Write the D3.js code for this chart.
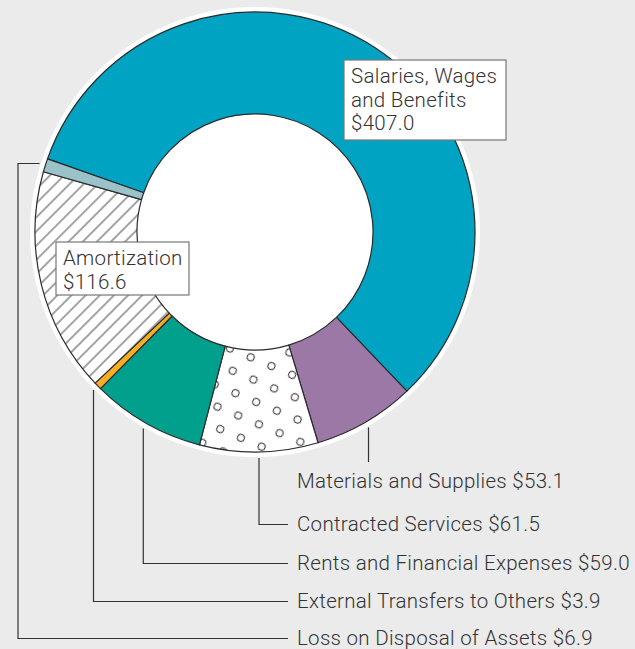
<!DOCTYPE html>
<html>
<head>
<meta charset="utf-8">
<script src="https://cdn.jsdelivr.net/npm/d3@7"></script>
<style>
  html, body { margin: 0; padding: 0; background: #eaebea; }
  svg { display: block; }
  text { font-family: Roboto, "Liberation Sans", sans-serif; font-weight: 300; fill: #333; letter-spacing: 0.3px; }
</style>
</head>
<body>
<div id="container"></div>
<script>
// expenses, millions of dollars, clockwise from the top-left
const categories = [
    'Salaries, Wages and Benefits',
    'Materials and Supplies',
    'Contracted Services',
    'Rents and Financial Expenses',
    'External Transfers to Others',
    'Amortization',
    'Loss on Disposal of Assets'
];
const values = [407.0, 53.1, 61.5, 59.0, 3.9, 116.6, 6.9];
const fills = ['#00a3c1', '#9b78a6', 'url(#dots)', '#00a08c', '#f7ae22', 'url(#hatch)', '#99c3c9'];

// boxed labels and listed labels
const boxed = [0, 5];
const boxLines = [['Salaries, Wages', 'and Benefits'], ['Amortization']];
const listed = [1, 2, 3, 4, 6];
const listBaselines = [488, 531, 570, 608, 645];

const width = 635, height = 649;
const cx = 255, cy = 232;
const rOuter = 220, rInner = 118, rLeader = 226;
const textX = 297, lineEndX = 288, lossX = 18;
const fontSize = 20.5;

const fmt = v => '$' + d3.format('.1f')(v);

const svg = d3.select('#container')
    .append('svg')
    .attr('width', width)
    .attr('height', height);

const defs = svg.append('defs');

const hatch = defs.append('pattern')
    .attr('id', 'hatch')
    .attr('patternUnits', 'userSpaceOnUse')
    .attr('width', 10)
    .attr('height', 10)
    .attr('patternTransform', 'rotate(45)');
hatch.append('rect').attr('width', 10).attr('height', 10).attr('fill', '#fff');
hatch.append('line')
    .attr('x1', 5).attr('x2', 5).attr('y1', 0).attr('y2', 10)
    .attr('stroke', '#333').attr('stroke-width', 0.9);

const dw = 22.5, dh = 39;
const dots = defs.append('pattern')
    .attr('id', 'dots')
    .attr('patternUnits', 'userSpaceOnUse')
    .attr('width', dw)
    .attr('height', dh)
    .attr('patternTransform', 'rotate(23)');
dots.append('rect').attr('width', dw).attr('height', dh).attr('fill', '#fff');
[[0, 0], [dw, 0], [0, dh], [dw, dh], [dw / 2, dh / 2]].forEach(([x, y]) => {
    dots.append('circle')
        .attr('cx', x).attr('cy', y).attr('r', 3.5)
        .attr('fill', '#fff').attr('stroke', '#333').attr('stroke-width', 1);
});

const g = svg.append('g').attr('transform', `translate(${cx}, ${cy})`);

const start = -70.6 * Math.PI / 180;
const pie = d3.pie().sort(null).value(d => d)
    .startAngle(start).endAngle(start + 2 * Math.PI);
const arcs = pie(values);

const arc = d3.arc().innerRadius(rInner).outerRadius(rOuter);
const leaderArc = d3.arc().innerRadius(rLeader).outerRadius(rLeader);

// white halo round the ring
g.append('circle').attr('r', rOuter + 5).attr('fill', '#fff');

g.selectAll('path.slice')
    .data(arcs).enter()
    .append('path')
    .attr('class', 'slice')
    .attr('d', arc)
    .attr('fill', (d, i) => fills[i])
    .attr('stroke', '#2b2b2b')
    .attr('stroke-width', 1.2)
    .attr('stroke-linejoin', 'round');

// leader lines and list labels
const leaders = svg.append('g')
    .attr('fill', 'none')
    .attr('stroke', '#333')
    .attr('stroke-width', 1.2);

listed.forEach((idx, k) => {
    const [px, py] = leaderArc.centroid(arcs[idx]);
    const x0 = cx + px, y0 = cy + py;
    const base = listBaselines[k];
    const ly = base - 6.5;
    let pts;
    if (k === 0) {
        pts = [[x0, y0], [x0, base - 26]];
    } else if (idx === 6) {
        pts = [[x0, y0], [lossX, y0], [lossX, ly], [lineEndX, ly]];
    } else {
        pts = [[x0, y0], [x0, ly], [lineEndX, ly]];
    }
    leaders.append('path').attr('d', d3.line()(pts));

    svg.append('text')
        .attr('x', textX)
        .attr('y', base)
        .attr('font-size', fontSize)
        .text(`${categories[idx]} ${fmt(values[idx])}`);
});

// boxed labels
const boxes = [
    { x: 344, y: 60, w: 162, h: 80, tx: 351, base: 83 },
    { x: 56, y: 242, w: 133, h: 53, tx: 63, base: 265 }
];
const lineH = 23.6;

boxed.forEach((idx, k) => {
    const b = boxes[k];
    svg.append('rect')
        .attr('x', b.x).attr('y', b.y)
        .attr('width', b.w).attr('height', b.h)
        .attr('fill', '#fff')
        .attr('stroke', '#777')
        .attr('stroke-width', 1.2);
    const lines = boxLines[k].concat([fmt(values[idx])]);
    const t = svg.append('text').attr('font-size', fontSize);
    lines.forEach((s, j) => {
        t.append('tspan').attr('x', b.tx).attr('y', b.base + j * lineH).text(s);
    });
});
</script>
</body>
</html>
